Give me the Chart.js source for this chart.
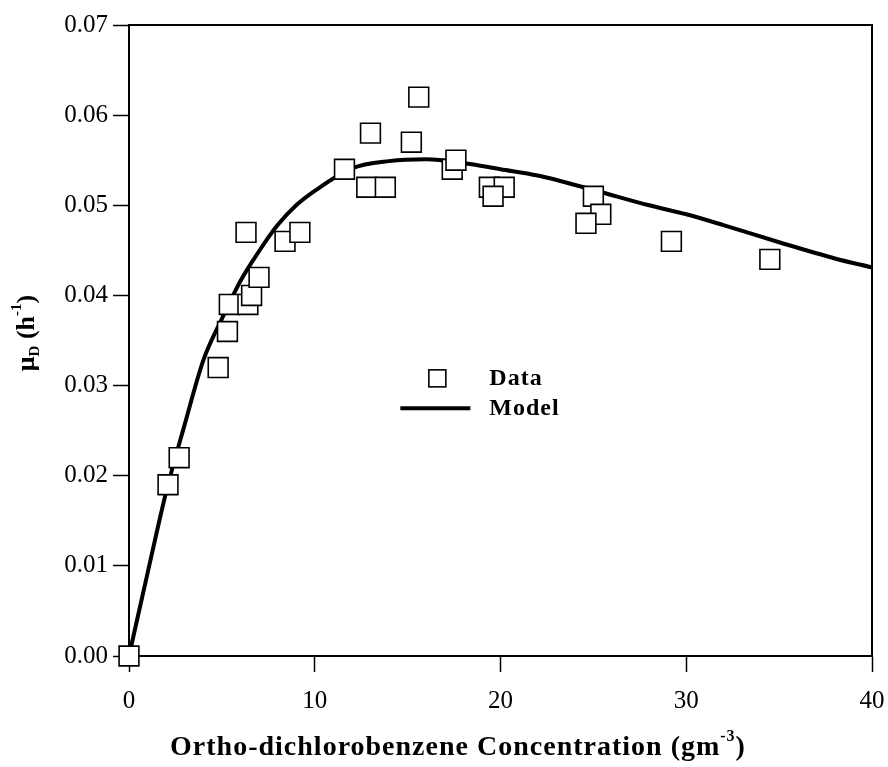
<!DOCTYPE html>
<html>
<head>
<meta charset="utf-8">
<script src="https://cdn.jsdelivr.net/npm/chart.js@4.4.1/dist/chart.umd.min.js"></script>
<style>
  body { margin: 0; background: #fff; }
  #wrap { width: 888px; height: 767px; }
</style>
</head>
<body>
<div id="wrap"><canvas id="chart" width="888" height="767"></canvas></div>
<script>
// dati
const dataX = [0, 2.1, 2.7, 4.8, 5.3, 5.4, 6.4, 6.6, 7.0, 6.3, 8.4, 9.2, 11.6, 12.8, 13.8, 13.0, 15.2, 15.6, 17.4, 17.6, 19.4, 20.2, 19.6, 25.0, 25.4, 24.6, 29.2, 34.5];
const dataY = [0, 0.019, 0.022, 0.032, 0.036, 0.039, 0.039, 0.040, 0.042, 0.047, 0.046, 0.047, 0.054, 0.052, 0.052, 0.058, 0.057, 0.062, 0.054, 0.055, 0.052, 0.052, 0.051, 0.051, 0.049, 0.048, 0.046, 0.044];

// curva del modello
const modelX = [0, 1, 2, 3, 4, 5, 6, 7, 8, 9, 10, 12, 14, 16, 18, 20, 22, 25, 28, 30, 32, 35, 38, 40];
const modelY = [0, 0.0092, 0.0182, 0.0257, 0.0328, 0.0374, 0.0416, 0.0449, 0.0478, 0.0500, 0.0516, 0.0541, 0.0549, 0.0551, 0.0547, 0.0540, 0.0533, 0.0517, 0.0500, 0.0490, 0.0478, 0.0459, 0.0441, 0.0431];

const xTicks = [0, 10, 20, 30, 40];
const yTicks = [0, 0.01, 0.02, 0.03, 0.04, 0.05, 0.06, 0.07];

const serif = "'Liberation Serif', 'Times New Roman', serif";

function toPoints(xs, ys) {
  return xs.map((x, i) => ({ x: x, y: ys[i] }));
}

// scrive testo con pedici / apici
function drawRich(ctx, parts, x, y, spacing) {
  ctx.letterSpacing = (spacing || 0) + "px";
  let total = 0;
  parts.forEach((p) => {
    ctx.font = "bold " + p.size + "px " + serif;
    p.w = ctx.measureText(p.t).width;
    total += p.w;
  });
  let cx = x - total / 2;
  ctx.textAlign = "left";
  ctx.textBaseline = "middle";
  parts.forEach((p) => {
    ctx.font = "bold " + p.size + "px " + serif;
    ctx.fillText(p.t, cx, y + (p.dy || 0));
    cx += p.w;
  });
  ctx.letterSpacing = "0px";
}

const decorations = {
  id: "decorations",
  afterDraw(chart) {
    const ctx = chart.ctx;
    const a = chart.chartArea;
    ctx.save();
    ctx.fillStyle = "#000";
    ctx.strokeStyle = "#000";

    // bordo superiore e destro
    ctx.lineWidth = 2;
    ctx.beginPath();
    ctx.moveTo(a.left, a.top);
    ctx.lineTo(a.right, a.top);
    ctx.lineTo(a.right, a.bottom);
    ctx.stroke();

    // titolo asse x
    drawRich(ctx, [
      { t: "Ortho-dichlorobenzene Concentration (gm", size: 28 },
      { t: "-3", size: 16, dy: -11 },
      { t: ")", size: 28 },
    ], 458, 748, 1);

    // titolo asse y
    ctx.save();
    ctx.translate(27, 333);
    ctx.rotate(-Math.PI / 2);
    drawRich(ctx, [
      { t: "\u03bc", size: 26 },
      { t: "D", size: 15, dy: 8 },
      { t: " (h", size: 26 },
      { t: "-1", size: 15, dy: -10 },
      { t: ")", size: 26 },
    ], 0, 0, 0);
    ctx.restore();

    // legenda
    const lx = a.left + (a.right - a.left) * 0.415;
    const ly = a.top + (a.bottom - a.top) * 0.56;
    ctx.lineWidth = 1.6;
    ctx.fillStyle = "#fff";
    ctx.fillRect(lx - 8.5, ly - 8.5, 17, 17);
    ctx.strokeRect(lx - 8.5, ly - 8.5, 17, 17);
    ctx.fillStyle = "#000";
    ctx.font = "bold 24px " + serif;
    ctx.textAlign = "left";
    ctx.textBaseline = "middle";
    ctx.letterSpacing = "1px";
    ctx.fillText("Data", lx + 52, ly);
    ctx.lineWidth = 4;
    ctx.beginPath();
    ctx.moveTo(lx - 37, ly + 30);
    ctx.lineTo(lx + 33, ly + 30);
    ctx.stroke();
    ctx.fillText("Model", lx + 52, ly + 30);

    ctx.restore();
  },
};

const ctx = document.getElementById("chart").getContext("2d");

let chart = new Chart(ctx, {
  type: "scatter",
  data: {
    datasets: [
      {
        label: "Data",
        data: toPoints(dataX, dataY),
        pointStyle: "rect",
        pointRadius: 14,
        pointHoverRadius: 14,
        pointBackgroundColor: "#fff",
        pointBorderColor: "#000",
        pointBorderWidth: 1.6,
        clip: false,
        order: 0,
      },
      {
        label: "Model",
        data: toPoints(modelX, modelY),
        showLine: true,
        borderColor: "#000",
        borderWidth: 4,
        pointRadius: 0,
        cubicInterpolationMode: "monotone",
        order: 1,
      },
    ],
  },
  options: {
    responsive: false,
    animation: false,
    devicePixelRatio: 1,
    layout: { padding: { top: 25, right: 16, left: 0, bottom: 0 } },
    plugins: {
      legend: { display: false },
      tooltip: { enabled: false },
    },
    scales: {
      x: {
        type: "linear",
        min: 0,
        max: 40,
        afterBuildTicks: (scale) => {
          scale.ticks = xTicks.map((v) => ({ value: v }));
        },
        afterFit: (scale) => {
          scale.height = 111;
          scale.paddingLeft = 0;
          scale.paddingRight = 0;
        },
        ticks: {
          color: "#000",
          font: { family: serif, size: 25 },
          padding: 14,
        },
        grid: {
          drawOnChartArea: false,
          drawTicks: true,
          tickLength: 16,
          tickWidth: 1.5,
          tickColor: "#000",
        },
        border: { color: "#000", width: 2 },
      },
      y: {
        type: "linear",
        min: 0,
        max: 0.07,
        afterBuildTicks: (scale) => {
          scale.ticks = yTicks.map((v) => ({ value: v }));
        },
        afterFit: (scale) => {
          scale.width = 129;
          scale.paddingTop = 0;
          scale.paddingBottom = 0;
        },
        ticks: {
          color: "#000",
          font: { family: serif, size: 25 },
          padding: 5,
          callback: (v) => v.toFixed(2),
        },
        grid: {
          drawOnChartArea: false,
          drawTicks: true,
          tickLength: 16,
          tickWidth: 1.5,
          tickColor: "#000",
        },
        border: { color: "#000", width: 2 },
      },
    },
  },
  plugins: [decorations],
});
</script>
</body>
</html>
